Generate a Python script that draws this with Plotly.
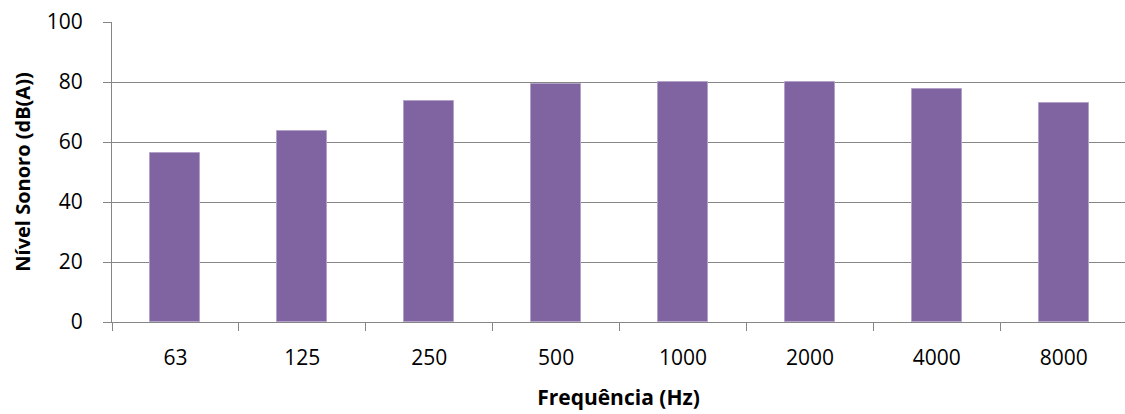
import plotly.graph_objects as go

categories = ["63", "125", "250", "500", "1000", "2000", "4000", "8000"]
values = [56.3, 63.8, 73.7, 79.2, 80.0, 80.1, 77.6, 73.0]

fig = go.Figure(go.Bar(
    x=categories, y=values,
    marker=dict(color="#8064A2", line=dict(color="#B3A2C7", width=1)),
    width=0.394,
))

grid = "#868686"
fig.update_layout(
    width=1125, height=414,
    margin=dict(l=112, r=0, t=22, b=92),
    plot_bgcolor="white", paper_bgcolor="white",
    font=dict(family="Open Sans, sans-serif", color="#000000"),
    showlegend=False,
    bargap=0,
)
fig.update_xaxes(
    type="category",
    range=[-0.5, 7.483],
    showline=True, linecolor=grid, linewidth=1,
    ticks="outside", tickson="boundaries", ticklen=8, tickcolor=grid, tickwidth=1,
    tickfont=dict(size=21),
    ticklabelstandoff=17,
    title=dict(text="<b>Frequência (Hz)</b>", font=dict(size=21), standoff=20),
    showgrid=False,
)
fig.update_yaxes(
    range=[0, 100], tickvals=[0, 20, 40, 60, 80, 100],
    showgrid=True, gridcolor=grid, gridwidth=1,
    showline=True, linecolor=grid, linewidth=1,
    ticks="outside", ticklen=8, tickcolor=grid, tickwidth=1,
    tickfont=dict(size=21),
    ticklabelstandoff=16,
    title=dict(text="<b>Nível Sonoro (dB(A))</b>", font=dict(size=20), standoff=10),
    zeroline=False,
)

fig.write_html("out.html")
